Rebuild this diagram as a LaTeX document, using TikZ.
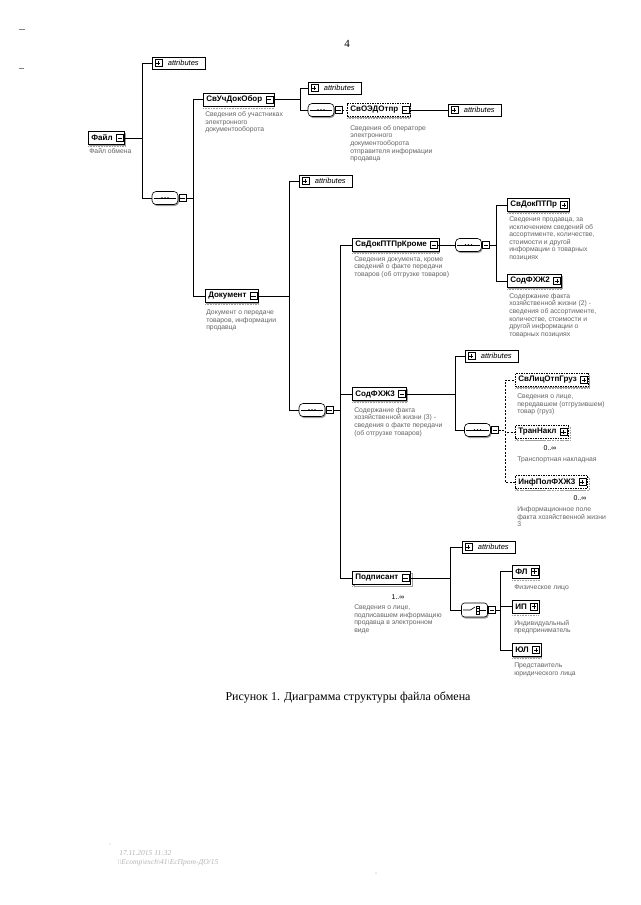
\documentclass[tikz,border=0pt]{standalone}
\usepackage{fontspec}
\setmainfont{Liberation Sans}
\newfontfamily\capfont{Liberation Serif}
\usetikzlibrary{positioning, shadows}
\definecolor{descGray}{RGB}{100,100,100}
\definecolor{shadeGray}{RGB}{160,160,160}
\definecolor{stampGray}{RGB}{180,180,180}

\tikzset{
  elem/.style={draw, fill=white, anchor=west, font=\bfseries\fontsize{8}{9}\selectfont,
    minimum height=13pt, inner xsep=3pt, inner ysep=0pt, execute at end node={\hspace*{9pt}},
    general shadow={shadow xshift=1pt, shadow yshift=-1pt, fill=shadeGray}},
  opt/.style={dash pattern=on 1.5pt off 1pt},
  multi/.style={copy shadow={shadow xshift=2pt, shadow yshift=-2pt, draw=shadeGray}},
  attr/.style={draw, fill=white, anchor=west, font=\itshape\fontsize{7.5}{8}\selectfont,
    minimum height=12pt, minimum width=53pt, inner sep=0pt, execute at begin node={\hspace*{9pt}}},
  expm/.style={draw, fill=white, minimum size=7pt, inner sep=0pt, line width=0.5pt,
    path picture={\draw ([xshift=1.4pt]path picture bounding box.west) -- ([xshift=-1.4pt]path picture bounding box.east);}},
  expp/.style={expm,
    path picture={\draw ([xshift=1.4pt]path picture bounding box.west) -- ([xshift=-1.4pt]path picture bounding box.east);
      \draw ([yshift=-1.4pt]path picture bounding box.north) -- ([yshift=1.4pt]path picture bounding box.south);}},
  seqbox/.style={draw, fill=white, rounded corners=4pt, minimum width=26pt, minimum height=13pt, inner sep=0pt,
    general shadow={shadow xshift=1pt, shadow yshift=-1.5pt, fill=shadeGray}},
  choicebox/.style={seqbox, rounded corners=3pt, minimum height=14pt},
  desc/.style={anchor=north west, inner sep=0pt, align=left, text=descGray, font=\fontsize{6.8}{7.6}\selectfont},
  mult/.style={inner sep=0pt, font=\fontsize{7}{8}\selectfont},
  typeline/.style={shadeGray, line width=0.8pt, dash pattern=on 1pt off 0.6pt},
  optconn/.style={dash pattern=on 2pt off 1.5pt}
}

\begin{document}
\begin{tikzpicture}[x=1pt, y=-1pt, line width=0.6pt]
\fill[white] (0,0) rectangle (640,905);
\useasboundingbox (0,0) rectangle (640,905);

\node[font=\capfont\fontsize{11}{12}\selectfont] (pgnum) at (347,44) {4};
\draw[gray] (19,29) -- (25,29);
\draw[gray] (19,68) -- (24,68);

% file level
\node[elem] (fajl) at (88,138) {Файл};
\node[desc] (fajl-d) at (89,148.5) {Файл обмена};
\node[attr] (fattr) at (152,63) {attributes};
\node[seqbox] (seq1) at (165,198) {};

\node[elem] (svuch) at (203,99.5) {СвУчДокОбор};
\node[desc] (svuch-d) at (205,111.5) {Сведения об участниках\\электронного\\документооборота};
\node[attr] (svattr) at (308,88) {attributes};
\node[seqbox] (seq2) at (321,110) {};
\node[elem, opt] (svoedo) at (347,110) {СвОЭДОтпр};
\node[desc] (svoedo-d) at (350,125) {Сведения об операторе\\электронного\\документооборота\\отправителя информации\\продавца};
\node[attr] (oedoattr) at (448,110) {attributes};

% document
\node[elem] (dok) at (205,296) {Документ};
\node[desc] (dok-d) at (206,309.5) {Документ о передаче\\товаров, информации\\продавца};
\node[attr] (dokattr) at (299,181) {attributes};
\node[seqbox] (seq3) at (312,410) {};

\node[elem] (svkrome) at (352,245) {СвДокПТПрКроме};
\node[desc] (svkrome-d) at (354,256) {Сведения документа, кроме\\сведений о факте передачи\\товаров (об отгрузке товаров)};
\node[seqbox] (seq4) at (468.5,245) {};
\node[elem] (svptpr) at (507,205) {СвДокПТПр};
\node[desc] (svptpr-d) at (509,216.5) {Сведения продавца, за\\исключением сведений об\\ассортименте, количестве,\\стоимости и другой\\информации о товарных\\позициях};
\node[elem] (sod2) at (507,281) {СодФХЖ2};
\node[desc] (sod2-d) at (509,293) {Содержание факта\\хозяйственной жизни (2) -\\сведения об ассортименте,\\количестве, стоимости и\\другой информации о\\товарных позициях};

\node[elem] (sod3) at (352,394) {СодФХЖ3};
\node[desc] (sod3-d) at (354,407) {Содержание факта\\хозяйственной жизни (3) -\\сведения о факте передачи\\(об отгрузке товаров)};
\node[attr] (sod3attr) at (465,356) {attributes};
\node[seqbox] (seq5) at (477.5,430) {};
\node[elem, opt] (svlic) at (515,380) {СвЛицОтпГруз};
\node[desc] (svlic-d) at (517,393.5) {Сведения о лице,\\передавшем (отгрузившем)\\товар (груз)};
\node[elem, opt, multi] (tran) at (515,432) {ТранНакл};
\node[mult] (tran-m) at (550,448) {0..∞};
\node[desc] (tran-d) at (517,457) {Транспортная накладная};
\node[elem, opt, multi] (infpol) at (515,482) {ИнфПолФХЖ3};
\node[mult] (infpol-m) at (580,498) {0..∞};
\node[desc] (infpol-d) at (517,506.5) {Информационное поле\\факта хозяйственной жизни\\3};

% signer
\node[elem, multi] (podp) at (352,578) {Подписант};
\node[mult] (podp-m) at (398,597) {1..∞};
\node[desc] (podp-d) at (354,604.5) {Сведения о лице,\\подписавшем информацию\\продавца в электронном\\виде};
\node[attr] (podpattr) at (462,547) {attributes};
\node[choicebox] (choice1) at (474.5,610) {};
\node[elem] (fl) at (512,571.5) {ФЛ};
\node[desc] (fl-d) at (514,584.5) {Физическое лицо};
\node[elem] (ip) at (512,606.5) {ИП};
\node[desc] (ip-d) at (514,620) {Индивидуальный\\предприниматель};
\node[elem] (jul) at (512,650) {ЮЛ};
\node[desc] (jul-d) at (514,663) {Представитель\\юридического лица};

% expanders
\foreach \n in {fajl,svuch,svoedo,dok,svkrome,sod3,podp}
  \node[expm, anchor=east] (\n-x) at ([xshift=-1.5pt]\n.east) {};
\foreach \n in {svptpr,sod2,svlic,tran,infpol,fl,ip,jul}
  \node[expp, anchor=east] (\n-x) at ([xshift=-1.5pt]\n.east) {};
\foreach \n in {seq1,seq2,seq3,seq4,seq5,choice1}
  \node[expm, right=0.5pt of \n] (\n-x) {};
\foreach \n in {fattr,svattr,oedoattr,dokattr,sod3attr,podpattr}
  \node[expp, anchor=west] (\n-x) at ([xshift=2.5pt]\n.west) {};

% type lines under the boxes
\foreach \n in {fajl,svuch,svoedo,dok,svkrome,svptpr,sod2,sod3,svlic,tran,infpol,podp,fl,ip,jul}
  \draw[typeline] ([yshift=-2pt]\n.south west) -- ([yshift=-2pt]\n.south east);

% compositor marks
\foreach \s in {seq1,seq2,seq3,seq4,seq5} {
  \draw ([xshift=2pt]\s.west) -- ([xshift=-2pt]\s.east);
  \foreach \d in {-3,0,3} \fill ([xshift=\d pt]\s.center) circle (0.9pt);
}
\draw ([xshift=2pt]choice1.west) -- ([xshift=-4pt]choice1.center) -- ([shift={(0.5pt,3pt)}]choice1.center);
\draw ([shift={(1.5pt,-4pt)}]choice1.center) rectangle ([shift={(5pt,4pt)}]choice1.center);
\foreach \d in {-1.3,1.3} \draw ([shift={(1.5pt,\d pt)}]choice1.center) -- ([shift={(5pt,\d pt)}]choice1.center);
\draw ([xshift=5pt]choice1.center) -- ([xshift=-2pt]choice1.east);

% connectors
\coordinate (b1) at (142,0);
\foreach \c in {fattr,seq1} \draw (fajl-x.east) -| (b1 |- \c.west) -- (\c.west);
\coordinate (b2) at (193,0);
\foreach \c in {svuch,dok} \draw (seq1-x.east) -| (b2 |- \c.west) -- (\c.west);
\coordinate (b3) at (300,0);
\foreach \c in {svattr,seq2} \draw (svuch-x.east) -| (b3 |- \c.west) -- (\c.west);
\draw[optconn] (seq2-x.east) -- (svoedo.west);
\draw (svoedo-x.east) -- (oedoattr.west);
\coordinate (b4) at (289,0);
\foreach \c in {dokattr,seq3} \draw (dok-x.east) -| (b4 |- \c.west) -- (\c.west);
\coordinate (b5) at (340,0);
\foreach \c in {svkrome,sod3,podp} \draw (seq3-x.east) -| (b5 |- \c.west) -- (\c.west);
\draw (svkrome-x.east) -- (seq4.west);
\coordinate (b6) at (496,0);
\foreach \c in {svptpr,sod2} \draw (seq4-x.east) -| (b6 |- \c.west) -- (\c.west);
\coordinate (b7) at (455,0);
\foreach \c in {sod3attr,seq5} \draw (sod3-x.east) -| (b7 |- \c.west) -- (\c.west);
\coordinate (b8) at (505,0);
\foreach \c in {svlic,tran,infpol} \draw[optconn] (seq5-x.east) -| (b8 |- \c.west) -- (\c.west);
\coordinate (b9) at (450,0);
\foreach \c in {podpattr,choice1} \draw (podp-x.east) -| (b9 |- \c.west) -- (\c.west);
\coordinate (b10) at (500,0);
\foreach \c in {fl,ip,jul} \draw (choice1-x.east) -| (b10 |- \c.west) -- (\c.west);

\node[font=\capfont\fontsize{12}{14}\selectfont] (caption) at (348,697) {Рисунок 1. Диаграмма структуры файла обмена};

% stamp
\fill[stampGray] (110,844) circle (0.7pt);
\fill[stampGray] (376,873) circle (0.7pt);
\node[anchor=west, inner sep=0pt, text=stampGray, font=\capfont\itshape\fontsize{7.5}{8}\selectfont] (stamp1) at (119,853) {17.11.2015 11:32};
\node[anchor=west, inner sep=0pt, text=stampGray, font=\capfont\itshape\fontsize{7.5}{8}\selectfont] (stamp2) at (117,863) {\textbackslash\textbackslash Ecomp\textbackslash exch\textbackslash 41\textbackslash ЕсПрот-ДО/15};
\end{tikzpicture}
\end{document}
